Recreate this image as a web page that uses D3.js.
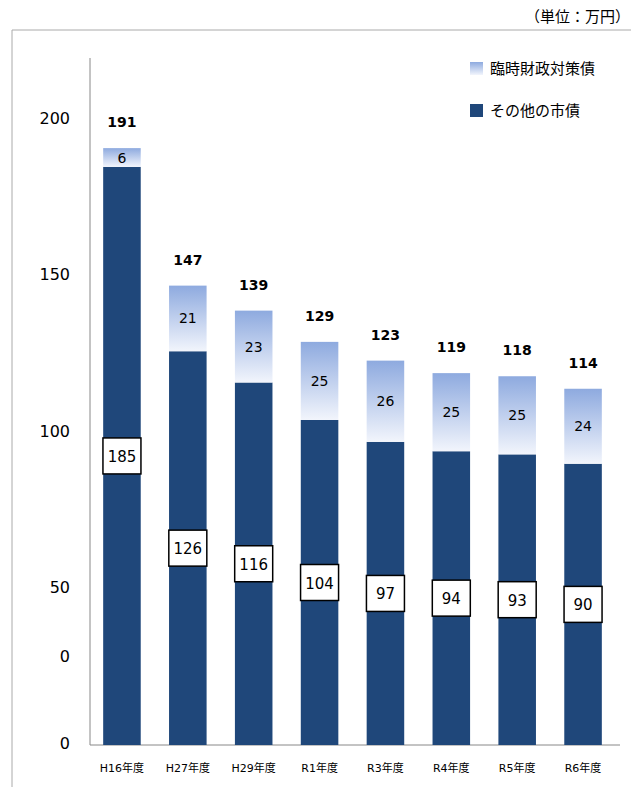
<!DOCTYPE html>
<html><head><meta charset="utf-8">
<script src="https://cdn.jsdelivr.net/npm/d3@7"></script>
<style>body{margin:0;background:#fff}text{font-family:"DejaVu Sans","Noto Sans CJK JP",sans-serif}</style>
</head><body><svg id="c" width="631" height="787"></svg>
<script>
const categories = ['H16年度','H27年度','H29年度','R1年度','R3年度','R4年度','R5年度','R6年度'];
const otherDebt = [185,126,116,104,97,94,93,90];
const specialDebt = [6,21,23,25,26,25,25,24];
const totals = [191,147,139,129,123,119,118,114];
const tickValues = [0,28,50,100,150,200];
const tickLabels = ['0','0','50','100','150','200'];

const svg = d3.select('#c');
const dark = '#1f477a';

const defs = svg.append('defs');
const g = defs.append('linearGradient').attr('id','grad').attr('x1',0).attr('y1',0).attr('x2',0).attr('y2',1);
g.append('stop').attr('offset','0%').attr('stop-color','#8eaadf');
g.append('stop').attr('offset','100%').attr('stop-color','#f2f5fc');

// frame
svg.append('path').attr('d','M12,787V30H631').attr('fill','none').attr('stroke','#aaa');
svg.append('text').attr('x',630).attr('y',22).attr('text-anchor','end').attr('font-size',15).text('（単位：万円）');

const x = d3.scaleBand().domain(categories).range([90,615]).paddingInner(0.43).paddingOuter(0.2);
const y = d3.scaleLinear().domain([0,200]).range([745,120]);

svg.append('line').attr('x1',90).attr('x2',90).attr('y1',58).attr('y2',745).attr('stroke','#888');
svg.append('line').attr('x1',90).attr('x2',620).attr('y1',745).attr('y2',745).attr('stroke','#888');

svg.selectAll('.tick').data(tickValues).enter().append('text')
  .attr('x',70).attr('y',d=>y(d)+4).attr('text-anchor','end').attr('font-size',16)
  .text((d,i)=>tickLabels[i]);

const bars = svg.selectAll('.bar').data(categories).enter().append('g');
bars.append('rect').attr('x',d=>x(d)).attr('width',x.bandwidth())
  .attr('y',(d,i)=>y(otherDebt[i])).attr('height',(d,i)=>y(0)-y(otherDebt[i])).attr('fill',dark);
bars.append('rect').attr('x',d=>x(d)).attr('width',x.bandwidth())
  .attr('y',(d,i)=>y(otherDebt[i]+specialDebt[i])).attr('height',(d,i)=>y(0)-y(specialDebt[i])).attr('fill','url(#grad)');
bars.append('text').attr('x',d=>x(d)+x.bandwidth()/2).attr('y',(d,i)=>y(otherDebt[i]+specialDebt[i]/2)+5)
  .attr('text-anchor','middle').attr('font-size',14).text((d,i)=>specialDebt[i]);
bars.append('rect').attr('x',d=>x(d)+x.bandwidth()/2-19).attr('width',38)
  .attr('y',(d,i)=>y(otherDebt[i]/2)-18).attr('height',36).attr('fill','#fff').attr('stroke','#000').attr('stroke-width',1.5);
bars.append('text').attr('x',d=>x(d)+x.bandwidth()/2).attr('y',(d,i)=>y(otherDebt[i]/2)+6)
  .attr('text-anchor','middle').attr('font-size',15).text((d,i)=>otherDebt[i]);
bars.append('text').attr('x',d=>x(d)+x.bandwidth()/2).attr('y',(d,i)=>y(totals[i])-21)
  .attr('text-anchor','middle').attr('font-size',14).attr('font-weight','bold').text((d,i)=>totals[i]);
bars.append('text').attr('x',d=>x(d)+x.bandwidth()/2).attr('y',772)
  .attr('text-anchor','middle').attr('font-size',11).text(d=>d);

const legend = [['臨時財政対策債','url(#grad)'],['その他の市債',dark]];
legend.forEach((l,i)=>{
  svg.append('rect').attr('x',470).attr('y',62+i*42).attr('width',13).attr('height',13).attr('fill',l[1]);
  svg.append('text').attr('x',490).attr('y',74+i*42).attr('font-size',15).text(l[0]);
});
</script></body></html>
